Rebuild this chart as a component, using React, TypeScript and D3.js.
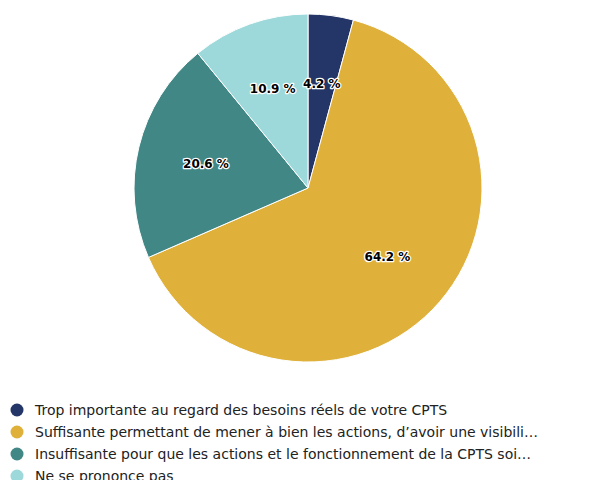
import React from 'react';
import * as d3 from 'd3';

const labels = [
  'Trop importante au regard des besoins réels de votre CPTS',
  'Suffisante permettant de mener à bien les actions, d’avoir une visibili…',
  'Insuffisante pour que les actions et le fonctionnement de la CPTS soi…',
  'Ne se prononce pas',
];
const values = [4.2, 64.2, 20.6, 10.9];
const colors = ['#243567', '#dfb13b', '#418785', '#9dd9da'];

const W = 608;
const H = 480;
const cx = 308;
const cy = 188;
const R = 174;

const App = () => {
  const data = values.map((v, i) => ({ v, i }));
  const pie = d3.pie<{ v: number; i: number }>().value(d => d.v).sort(null);
  const arcs = pie(data);
  const arc = d3.arc<d3.PieArcDatum<{ v: number; i: number }>>().innerRadius(0).outerRadius(R);
  const labelArc = d3.arc<d3.PieArcDatum<{ v: number; i: number }>>().innerRadius(105).outerRadius(105);

  return (
    <svg width={W} height={H} style={{ position: 'absolute', left: 0, top: 0 }}>
      <rect width={W} height={H} fill="#fff" />
      <g transform={`translate(${cx},${cy})`}>
        {arcs.map(a => (
          <path key={a.data.i} d={arc(a) || ''} fill={colors[a.data.i]} stroke="#fff" strokeWidth={1} />
        ))}
        {arcs.map(a => {
          const [x, y] = labelArc.centroid(a);
          return (
            <text
              key={'l' + a.data.i}
              x={x}
              y={y}
              dy="0.35em"
              textAnchor="middle"
              fontFamily="DejaVu Sans, sans-serif"
              fontSize={12}
              fontWeight="bold"
              fill="#000"
              stroke="#fff"
              strokeWidth={2.5}
              strokeLinejoin="round"
              paintOrder="stroke"
            >
              {`${a.data.v.toFixed(1)} %`}
            </text>
          );
        })}
      </g>
      <g fontFamily="DejaVu Sans, sans-serif" fontSize={14} fill="#222">
        {labels.map((l, i) => (
          <g key={l} transform={`translate(0,${410 + i * 22})`}>
            <circle cx={17} cy={0} r={6.5} fill={colors[i]} />
            <text x={35} y={0} dy="0.35em">{l}</text>
          </g>
        ))}
      </g>
    </svg>
  );
};

export default App;
